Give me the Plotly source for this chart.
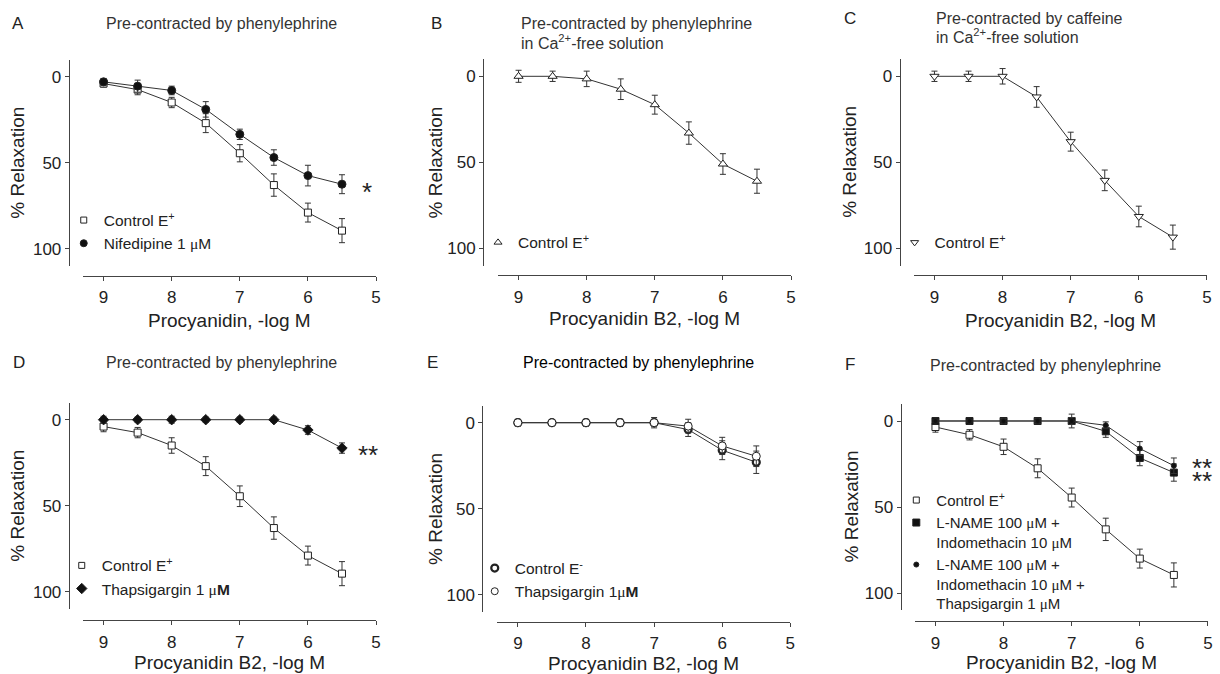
import plotly.graph_objects as go

# ---------------- data ----------------
conc = [9, 8.5, 8, 7.5, 7, 6.5, 6, 5.5]

A_control = [4, 7.5, 15, 27, 44.5, 63, 79, 89.5]
A_control_err = [2, 3, 3, 5.5, 5, 6.5, 5.5, 7]
A_nif = [3, 5.5, 8, 19, 33.5, 47, 57.5, 62.5]
A_nif_err = [2, 3.5, 2.5, 4.5, 3, 4.5, 6, 5.5]

B_control = [0, 0, 1.5, 7.5, 16.5, 33, 51, 61]
B_control_err = [3.5, 3, 4.5, 6, 5.5, 6.5, 6, 7]

C_control = [0, 0, 0, 12, 38, 60.5, 81.5, 93.5]
C_control_err = [3, 3, 4.5, 6, 5.5, 6, 6, 7]

D_control = [4, 7.5, 15, 27, 44.5, 63, 79, 89.5]
D_control_err = [3, 3, 4.5, 5.5, 6, 6.5, 5.5, 7]
D_thaps = [0, 0, 0, 0, 0, 0, 6, 16.5]
D_thaps_err = [2, 1.5, 2, 1.5, 1.5, 1.5, 2.5, 3]

E_control = [0, 0, 0, 0, 0, 4, 16, 23]
E_control_err = [2, 0.5, 2, 2, 2, 4, 5.5, 6.5]
E_thaps = [0, 0, 0, 0, 0, 2, 13.5, 19.5]
E_thaps_err = [1.5, 0.5, 1.5, 2, 3, 4, 5, 6]

F_control = [3.5, 8, 15, 27.5, 44.5, 63, 80, 89.5]
F_control_err = [3, 3, 4.5, 5.5, 5.5, 6.5, 5.5, 7]
F_lname = [0, 0, 0, 0, 0, 6, 21.5, 30]
F_lname_err = [1.5, 1, 2, 2, 4, 3.5, 4.5, 5]
F_lname_thaps = [0, 0, 0, 0, 0, 2.5, 16, 26]
F_lname_thaps_err = [1, 1, 1.5, 1.5, 2, 2, 4, 4.5]

x_ticks = [9, 8, 7, 6, 5]
y_ticks = [0, 50, 100]

MU = "<span style='font-family:Liberation Serif'>μ</span>"

panel_letters = ["A", "B", "C", "D", "E", "F"]
panel_titles = [
    ["Pre-contracted by phenylephrine"],
    ["Pre-contracted by phenylephrine", "in Ca<sup>2+</sup>-free solution"],
    ["Pre-contracted by caffeine", "in Ca<sup>2+</sup>-free solution"],
    ["Pre-contracted by phenylephrine"],
    ["Pre-contracted by phenylephrine"],
    ["Pre-contracted by phenylephrine"],
]
x_titles = ["Procyanidin, -log M"] + ["Procyanidin B2, -log M"] * 5
y_title = "% Relaxation"

# series per panel: (name, y, err, symbol, fill, line width, size, legend size)
series = [
    [("Control E<sup>+</sup>", A_control, A_control_err, "square", "white", 1, 7, 6),
     (f"Nifedipine 1 {MU}M", A_nif, A_nif_err, "circle", "#111", 1, 8, 7)],
    [("Control E<sup>+</sup>", B_control, B_control_err, "triangle-up", "white", 1, 8, 7)],
    [("Control E<sup>+</sup>", C_control, C_control_err, "triangle-down", "white", 1, 8, 7)],
    [("Control E<sup>+</sup>", D_control, D_control_err, "square", "white", 1, 7, 6),
     (f"Thapsigargin 1 {MU}<b>M</b>", D_thaps, D_thaps_err, "diamond", "#111", 1, 8, 8)],
    [("Control E<sup>-</sup>", E_control, E_control_err, "circle", "white", 2.2, 7, 7),
     (f"Thapsigargin 1{MU}<b>M</b>", E_thaps, E_thaps_err, "circle", "white", 1, 8, 7)],
    [("Control E<sup>+</sup>", F_control, F_control_err, "square", "white", 1, 7, 6),
     (f"L-NAME 100 {MU}M +<br>Indomethacin 10 {MU}M", F_lname, F_lname_err, "square", "#111", 1, 7, 7),
     (f"L-NAME 100 {MU}M +<br>Indomethacin 10 {MU}M +<br>Thapsigargin 1 {MU}M",
      F_lname_thaps, F_lname_thaps_err, "circle", "#111", 1, 5, 5)],
]

stars = [
    [("*", 5.14, 67)],
    [],
    [],
    [("**", 5.12, 20.3)],
    [],
    [("**", 5.09, 27.3), ("**", 5.09, 35.1)],
]

# ---------------- geometry (pixels) ----------------
W, H = 1220, 674
PX_X = 68.4   # px per log unit
PX_Y = 1.72   # px per % unit
# (pixel of x=9, pixel of y=0, y-axis line x, x-axis line y)
geo = [
    (104.0, 76.7, 69.0, 276.0),
    (520.7, 76.3, 485.0, 275.3),
    (938.3, 76.3, 903.3, 275.3),
    (104.0, 419.7, 69.0, 620.3),
    (520.0, 422.7, 484.3, 622.0),
    (939.3, 421.0, 904.3, 621.3),
]
letter_pos = [(18, 23), (438, 23), (853, 18), (19, 362), (434, 362), (853, 364)]
title_pos = [
    [(104, 23)],
    [(521, 23.3), (521, 42.3)],
    [(938.3, 18.3), (938.3, 36)],
    [(104, 362)],
    [(523.3, 362)],
    [(931.7, 365.3)],
]
legend_pos = [(84, 220), (500, 242.3), (918.3, 242.3), (82, 565.3), (496.7, 568), (920, 500.3)]
legend_font = [15.5, 15.5, 15.5, 15.5, 15.5, 15]
xtitle_y = [320, 318, 320, 662, 663, 662]
ytitle_x = [18, 437, 853, 18, 437, 854]

fig = go.Figure()
layout = dict(
    width=W, height=H,
    margin=dict(l=0, r=0, t=0, b=0),
    paper_bgcolor="white", plot_bgcolor="white",
    font=dict(family="Liberation Sans, Arial, sans-serif", color="#222", size=16),
    showlegend=True,
    annotations=[],
)

FONT = "Liberation Sans, Arial, sans-serif"
AX_COL = "#444"

for i in range(6):
    k = "" if i == 0 else str(i + 1)
    x9, y0, yl, xl = geo[i]
    xd = [(x9 - 0.3 * PX_X) / W, (x9 + 4 * PX_X) / W]
    yd = [1 - (y0 + 110 * PX_Y) / H, 1 - (y0 - 10 * PX_Y) / H]
    layout["xaxis" + k] = dict(
        domain=xd, range=[9.3, 5], anchor="free", position=1 - xl / H,
        showline=True, linecolor=AX_COL, linewidth=1, showgrid=False, zeroline=False,
        ticks="outside", ticklen=4, tickcolor=AX_COL, tickvals=x_ticks,
        tickfont=dict(size=17, color="#222"), ticklabelstandoff=2,
    )
    layout["yaxis" + k] = dict(
        domain=yd, range=[110, -10], anchor="free", position=yl / W,
        showline=True, linecolor=AX_COL, linewidth=1, showgrid=False, zeroline=False,
        ticks="outside", ticklen=4, tickcolor=AX_COL, tickvals=y_ticks,
        tickfont=dict(size=17, color="#222"),
    )
    lg = "legend" + k
    mx, my = legend_pos[i]
    layout[lg] = dict(
        x=(mx - 20) / W, y=1 - (my - 16.5) / H, xanchor="left", yanchor="top",
        bgcolor="rgba(0,0,0,0)", font=dict(size=legend_font[i], family=FONT, color="#222"),
        tracegroupgap=0, valign="top", itemclick=False, itemdoubleclick=False,
    )
    xa = "x" + k
    ya = "y" + k
    for (name, yv, ev, sym, fill, lw, sz, lsz) in series[i]:
        fig.add_trace(go.Scatter(
            x=conc, y=yv, xaxis=xa, yaxis=ya, mode="lines+markers",
            line=dict(color="#333", width=1),
            marker=dict(symbol=sym, size=sz, color=fill, line=dict(color="#222", width=lw)),
            error_y=dict(type="data", array=ev, visible=True, color="#333", thickness=1, width=3),
            showlegend=False, cliponaxis=False, hoverinfo="skip",
        ))
        fig.add_trace(go.Scatter(
            x=[None], y=[None], xaxis=xa, yaxis=ya, mode="markers", name=name,
            marker=dict(symbol=sym, size=lsz, color=fill, line=dict(color="#222", width=lw)),
            showlegend=True, legend=lg,
        ))
    # stars
    for (txt, sx, sy) in stars[i]:
        layout["annotations"].append(dict(
            x=sx, y=sy, xref=xa, yref=ya, text=txt, showarrow=False,
            font=dict(size=26, family=FONT, color="#222"), xanchor="center", yanchor="middle",
        ))
    # panel letter
    lx, ly = letter_pos[i]
    layout["annotations"].append(dict(
        x=lx / W, y=1 - ly / H, xref="paper", yref="paper", text=panel_letters[i],
        showarrow=False, font=dict(size=17, family=FONT, color="#222"),
        xanchor="center", yanchor="middle",
    ))
    # titles
    for line, (tx, ty) in zip(panel_titles[i], title_pos[i]):
        layout["annotations"].append(dict(
            x=tx / W, y=1 - ty / H, xref="paper", yref="paper", text=line,
            showarrow=False, font=dict(size=16, family=FONT, color="#000" if i == 4 else "#333"),
            xanchor="left", yanchor="middle",
        ))
    # axis titles
    layout["annotations"].append(dict(
        x=(x9 - 0.3 * PX_X + x9 + 4 * PX_X) / 2 / W, y=1 - xtitle_y[i] / H,
        xref="paper", yref="paper", text=x_titles[i], showarrow=False,
        font=dict(size=19, family=FONT, color="#222"), xanchor="center", yanchor="middle",
    ))
    layout["annotations"].append(dict(
        x=ytitle_x[i] / W, y=1 - (y0 + 50 * PX_Y) / H,
        xref="paper", yref="paper", text=y_title, showarrow=False, textangle=-90,
        font=dict(size=19, family=FONT, color="#222"), xanchor="center", yanchor="middle",
    ))

fig.update_layout(**layout)
fig.write_html(
    "out.html",
    config={"displayModeBar": False},
    post_script="document.body.style.margin='0';document.body.style.overflow='hidden';",
)
